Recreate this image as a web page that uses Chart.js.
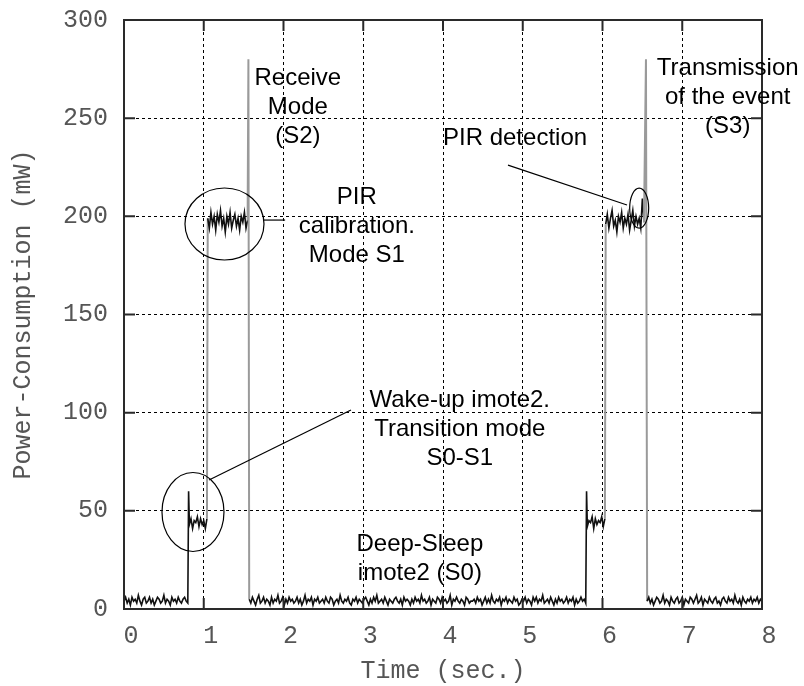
<!DOCTYPE html>
<html>
<head>
<meta charset="utf-8">
<script src="https://cdn.jsdelivr.net/npm/chart.js@4.4.0/dist/chart.umd.min.js"></script>
<style>
  html, body { margin: 0; padding: 0; background: #fff; }
</style>
</head>
<body>
<canvas id="powerChart" width="804" height="686"></canvas>
<script>
// tick values
const xTicks = [0, 1, 2, 3, 4, 5, 6, 7, 8];
const yTicks = [0, 50, 100, 150, 200, 250, 300];

// sampled trace, one value every 0.02 s inside each segment
const sampleStep = 0.02;
const sleep1 = [4,6,3,5,2,6,4,5,3,7, 4,2,5,6,3,4,6,3,5,2, 4,6,5,3,4,7,3,5,4,2, 6,4,5,3,6,4,3,5,6,4, 3];
const wake1 = [43,46,41,45,44,47,42,46,43,45,41,46];
const calib1 = [199,194,202,196,200,193,201,197,203,195, 199,192,200,196,202,194,198,201,195,199, 193,200,197,202,194,198];
const sleep2 = [
  5,3,6,4,2,5,7,3,4,6, 3,5,4,2,6,3,5,4,7,3, 4,6,2,5,3,6,4,5,3,4, 6,3,5,2,4,7,3,5,4,6,
  2,5,4,6,3,4,5,3,6,4, 3,6,5,2,4,5,3,7,4,3, 5,4,6,3,2,5,4,6,3,5, 4,3,5,6,4,2,5,3,6,4,
  7,3,4,5,3,6,4,2,5,4, 3,5,6,4,3,5,2,6,4,5, 4,2,5,3,6,4,5,3,7,4, 5,3,4,6,2,5,4,3,6,5,
  3,6,4,5,3,4,7,2,5,4, 6,4,3,5,4,2,6,5,3,4, 4,5,3,6,4,5,2,4,6,3, 5,3,7,4,3,5,4,6,2,5,
  4,6,3,5,4,3,6,4,5,2, 3,5,4,6,3,5,4,2,6,4, 6,3,5,4,7,3,4,5,3,6, 4,2,5,3,6,4,5,3,4,6,
  3,5,4,6,2,5,3,4,6,4, 5,3
];
const wake2 = [42,45,44,47,41,46,43,45,44,47,42,46];
const calib2 = [196,201,194,199,203,195,198,192,200,197, 202,194,199,196,201,193,198,203,195,200, 196,199,194,209,197];
const sleep3 = [
  4,6,3,5,2,4,6,5,3,4, 7,3,5,4,2,6,4,3,5,6, 3,4,6,2,5,4,3,6,5,3, 5,7,3,4,6,2,5,4,3,6,
  4,3,5,6,3,4,2,5,6,4, 3,6,4,5,3,7,4,3,5,2, 6,4,3,5,4,6,3,5,4,6, 3,5,4
];
const segStart = [0.00, 0.81, 0.82, 1.05, 1.56, 1.57, 5.80, 5.81, 6.04, 6.545, 6.56];
const segValues = [sleep1, [60], wake1, calib1, [280], sleep2, [60], wake2, calib2, [280], sleep3];

const trace = [];
segValues.forEach((vals, s) => {
  vals.forEach((v, i) => trace.push({ x: segStart[s] + i * sampleStep, y: v }));
});

// annotation texts, anchored in data units (first baseline)
const notes = [
  { lines: ['Receive', 'Mode', '(S2)'], x: 2.18, y: 267, align: 'center' },
  { lines: ['PIR', 'calibration.', 'Mode S1'], x: 2.92, y: 206.5, align: 'center' },
  { lines: ['PIR detection'], x: 4.0, y: 236.3, align: 'left' },
  { lines: ['Transmission', 'of the event', '(S3)'], x: 7.57, y: 272, align: 'center' },
  { lines: ['Wake-up imote2.', 'Transition mode', 'S0-S1'], x: 4.21, y: 103, align: 'center' },
  { lines: ['Deep-Sleep', 'imote2 (S0)'], x: 3.71, y: 29.5, align: 'center' }
];
// ellipses: centre in data units, radii in px
const rings = [
  { x: 0.865, y: 49.4, rx: 31, ry: 39.5 },
  { x: 1.26, y: 196.1, rx: 39.5, ry: 36 },
  { x: 6.46, y: 204.2, rx: 9.5, ry: 20 }
];
const leaders = [
  [1.743, 198.1, 2.02, 198.1],
  [1.066, 65.7, 2.846, 101.4],
  [4.815, 226.1, 6.307, 205.8]
];

const annotate = {
  id: 'annotate',
  afterDatasetsDraw(chart) {
    const { ctx, chartArea: a, scales: { x, y } } = chart;
    ctx.save();
    ctx.strokeStyle = '#2a2a2a';
    ctx.lineWidth = 2;
    ctx.strokeRect(a.left, a.top, a.right - a.left, a.bottom - a.top);
    // inward ticks on all four sides
    const tl = 11;
    ctx.beginPath();
    xTicks.forEach(t => {
      const px = x.getPixelForValue(t);
      ctx.moveTo(px, a.bottom); ctx.lineTo(px, a.bottom - tl);
      ctx.moveTo(px, a.top); ctx.lineTo(px, a.top + tl);
    });
    yTicks.forEach(t => {
      const py = y.getPixelForValue(t);
      ctx.moveTo(a.left, py); ctx.lineTo(a.left + tl, py);
      ctx.moveTo(a.right, py); ctx.lineTo(a.right - tl, py);
    });
    ctx.stroke();

    ctx.strokeStyle = '#000';
    ctx.lineWidth = 1.2;
    rings.forEach(r => {
      ctx.beginPath();
      ctx.ellipse(x.getPixelForValue(r.x), y.getPixelForValue(r.y), r.rx, r.ry, 0, 0, Math.PI * 2);
      ctx.stroke();
    });
    leaders.forEach(l => {
      ctx.beginPath();
      ctx.moveTo(x.getPixelForValue(l[0]), y.getPixelForValue(l[1]));
      ctx.lineTo(x.getPixelForValue(l[2]), y.getPixelForValue(l[3]));
      ctx.stroke();
    });

    ctx.fillStyle = '#000';
    ctx.font = '24px "Liberation Sans", Arial, sans-serif';
    ctx.textBaseline = 'alphabetic';
    notes.forEach(n => {
      ctx.textAlign = n.align;
      const px = x.getPixelForValue(n.x);
      const py = y.getPixelForValue(n.y);
      n.lines.forEach((s, i) => ctx.fillText(s, px, py + i * 29));
    });
    ctx.restore();
  }
};

const monoFont = { family: '"Liberation Mono", "Courier New", monospace', size: 25 };
const steep = c => Math.abs(c.p1.parsed.y - c.p0.parsed.y) > 80;

new Chart(document.getElementById('powerChart').getContext('2d'), {
  type: 'line',
  data: {
    datasets: [{
      data: trace,
      borderColor: '#111',
      borderWidth: 1.6,
      pointRadius: 0,
      tension: 0,
      segment: {
        borderColor: c => steep(c) ? '#9a9a9a' : '#111',
        borderWidth: c => steep(c) ? 2 : 1.6
      }
    }]
  },
  options: {
    responsive: false,
    animation: false,
    layout: { padding: { top: 20, right: 42, left: 0, bottom: 0 } },
    plugins: { legend: { display: false }, tooltip: { enabled: false } },
    scales: {
      x: {
        type: 'linear', min: 0, max: 8,
        afterBuildTicks: s => { s.ticks = xTicks.map(v => ({ value: v })); },
        afterFit: s => { s.height = 77; s.paddingLeft = 0; s.paddingRight = 0; },
        grid: { color: '#000', lineWidth: 1, drawTicks: false },
        border: { display: false, dash: [3, 3] },
        ticks: { color: '#555', font: monoFont, padding: 12, labelOffset: 7, maxRotation: 0 },
        title: { display: true, text: 'Time (sec.)', color: '#555', font: monoFont, padding: { top: 0, bottom: 0 } }
      },
      y: {
        min: 0, max: 300,
        afterBuildTicks: s => { s.ticks = yTicks.map(v => ({ value: v })); },
        afterFit: s => { s.width = 124; s.paddingTop = 0; s.paddingBottom = 0; },
        grid: { color: '#000', lineWidth: 1, drawTicks: false },
        border: { display: false, dash: [3, 3] },
        ticks: { color: '#555', font: monoFont, padding: 16 },
        title: { display: true, text: 'Power-Consumption (mW)', color: '#555', font: monoFont, padding: { top: 8, bottom: 0 } }
      }
    }
  },
  plugins: [annotate]
});
</script>
</body>
</html>
